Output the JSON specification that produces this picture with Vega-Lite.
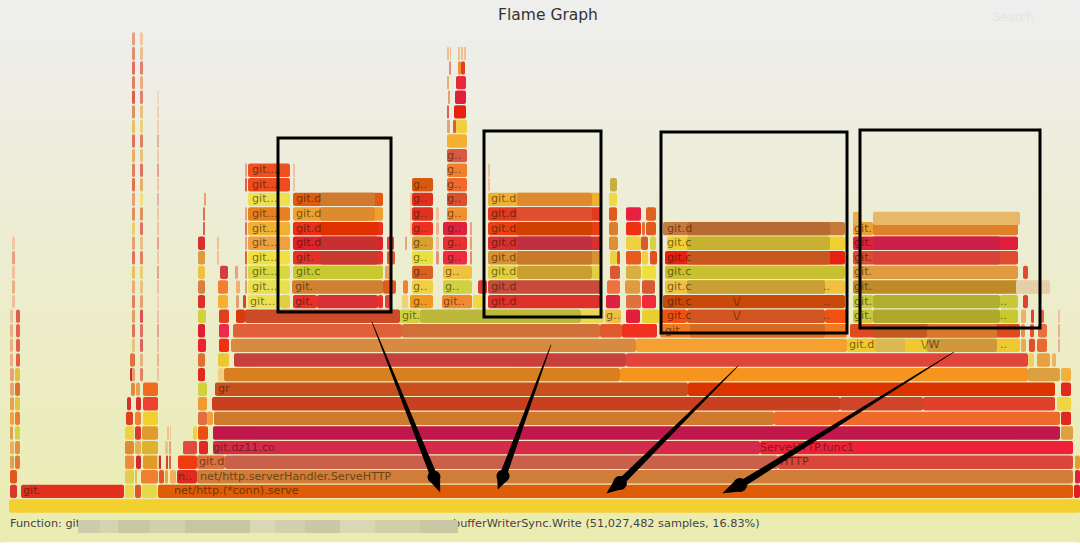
{"$schema":"https://vega.github.io/schema/vega-lite/v6.json","width":1080,"height":549,"padding":0,"autosize":{"type":"none"},
"background":"#ffffff",
"view":{"stroke":null,"fill":{"gradient":"linear","x1":0,"y1":0,"x2":0,"y2":1,"stops":[{"offset":0,"color":"#eeeeee"},{"offset":0.95,"color":"#ebecb2"},{"offset":1,"color":"#ebecb2"}]}},
"datasets":{
"frames":[
{"a":0,"b":1080,"d":-2.945,"c":"#ffffff"},
{"a":9,"b":1080,"d":0,"c":"#f4cf30"},
{"a":10,"b":17,"d":1,"c":"#d8392a"},{"a":21,"b":124,"d":1,"c":"#e2301f"},{"a":125,"b":134,"d":1,"c":"#efd54a"},{"a":135,"b":141,"d":1,"c":"#e0562a"},{"a":142,"b":157,"d":1,"c":"#e5d84a"},{"a":158,"b":1073,"d":1,"c":"#df5c08"},{"a":1074,"b":1080,"d":1,"c":"#e02020"},
{"a":10,"b":17,"d":2,"c":"#e05a20"},{"a":125,"b":134,"d":2,"c":"#e0cf4a"},{"a":135,"b":137,"d":2,"c":"#e8c040"},{"a":141,"b":158,"d":2,"c":"#f08030"},{"a":159,"b":164,"d":2,"c":"#e0562a"},{"a":165,"b":168,"d":2,"c":"#f0a040"},{"a":170,"b":176,"d":2,"c":"#f0b060"},{"a":177,"b":197,"d":2,"c":"#e02a20"},{"a":197,"b":1073,"d":2,"c":"#cf7d38"},{"a":1075,"b":1080,"d":2,"c":"#e0203a"},
{"a":10,"b":14,"d":3,"c":"#e0a050"},{"a":15,"b":20,"d":3,"c":"#e07a30"},{"a":125,"b":134,"d":3,"c":"#f08a3a"},{"a":136,"b":141,"d":3,"c":"#d02a30"},{"a":143,"b":158,"d":3,"c":"#e09a2a"},{"a":159,"b":161,"d":3,"c":"#c83030"},{"a":166,"b":168,"d":3,"c":"#d84030"},{"a":169,"b":171,"d":3,"c":"#e06050"},{"a":178,"b":197,"d":3,"c":"#f03a10"},{"a":197,"b":225,"d":3,"c":"#d97040"},{"a":225,"b":778,"d":3,"c":"#c8604a"},{"a":778,"b":1073,"d":3,"c":"#d9463a"},{"a":1075,"b":1080,"d":3,"c":"#e0a030"},
{"a":10,"b":14,"d":4,"c":"#e8b060"},{"a":15,"b":20,"d":4,"c":"#e09040"},{"a":125,"b":134,"d":4,"c":"#e08a30"},{"a":135,"b":141,"d":4,"c":"#e8b050"},{"a":142,"b":158,"d":4,"c":"#e0b030"},{"a":165,"b":168,"d":4,"c":"#eec090"},{"a":169,"b":171,"d":4,"c":"#e8a080"},{"a":183,"b":197,"d":4,"c":"#e04a40"},{"a":199,"b":208,"d":4,"c":"#e0282a"},{"a":213,"b":760,"d":4,"c":"#d62a4a"},{"a":760,"b":1073,"d":4,"c":"#f0203a"},
{"a":10,"b":13,"d":5,"c":"#e0a050"},{"a":15,"b":20,"d":5,"c":"#d8d040"},{"a":125,"b":134,"d":5,"c":"#f0d040"},{"a":135,"b":141,"d":5,"c":"#d83a30"},{"a":142,"b":158,"d":5,"c":"#e09a30"},{"a":167,"b":169,"d":5,"c":"#eec090"},{"a":170,"b":171,"d":5,"c":"#eec090"},{"a":193,"b":197,"d":5,"c":"#f0d040"},{"a":198,"b":208,"d":5,"c":"#e85010"},{"a":213,"b":1060,"d":5,"c":"#c0184a"},{"a":1061,"b":1073,"d":5,"c":"#e0a040"},
{"a":10,"b":14,"d":6,"c":"#f0a040"},{"a":15,"b":20,"d":6,"c":"#e88030"},{"a":126,"b":133,"d":6,"c":"#e04020"},{"a":135,"b":141,"d":6,"c":"#f08030"},{"a":143,"b":158,"d":6,"c":"#f0d030"},{"a":198,"b":207,"d":6,"c":"#e07040"},{"a":207,"b":213,"d":6,"c":"#f5a040"},{"a":214,"b":774,"d":6,"c":"#d07a30"},{"a":774,"b":1060,"d":6,"c":"#ef6a2a"},{"a":1061,"b":1071,"d":6,"c":"#e02a20"},
{"a":10,"b":14,"d":7,"c":"#e8a050"},{"a":15,"b":20,"d":7,"c":"#e8c040"},{"a":127,"b":131,"d":7,"c":"#d83030"},{"a":136,"b":141,"d":7,"c":"#d83030"},{"a":143,"b":158,"d":7,"c":"#f04030"},{"a":198,"b":207,"d":7,"c":"#f09a30"},{"a":212,"b":840,"d":7,"c":"#c8401f"},{"a":840,"b":923,"d":7,"c":"#d0452a"},{"a":923,"b":1055,"d":7,"c":"#e0402a"},{"a":1057,"b":1071,"d":7,"c":"#efd53f"},
{"a":10,"b":14,"d":8,"c":"#e8a070"},{"a":15,"b":20,"d":8,"c":"#e07030"},{"a":131,"b":135,"d":8,"c":"#e08a40"},{"a":136,"b":140,"d":8,"c":"#e8a050"},{"a":143,"b":158,"d":8,"c":"#f06a20"},{"a":198,"b":207,"d":8,"c":"#d0d040"},{"a":215,"b":688,"d":8,"c":"#c8501f"},{"a":688,"b":1055,"d":8,"c":"#dd3300"},{"a":1061,"b":1071,"d":8,"c":"#e02a20"},
{"a":10,"b":14,"d":9,"c":"#e8a070"},{"a":15,"b":20,"d":9,"c":"#e0c040"},{"a":130,"b":133,"d":9,"c":"#c83030"},{"a":198,"b":205,"d":9,"c":"#e02a20"},{"a":218,"b":224,"d":9,"c":"#f0d080"},{"a":224,"b":620,"d":9,"c":"#d88020"},{"a":620,"b":1028,"d":9,"c":"#f5951f"},{"a":1028,"b":1060,"d":9,"c":"#dca040"},{"a":1061,"b":1071,"d":9,"c":"#f0b040"},
{"a":10,"b":13,"d":10,"c":"#e8b080"},{"a":16,"b":20,"d":10,"c":"#e06040"},{"a":130,"b":135,"d":10,"c":"#e07040"},{"a":198,"b":205,"d":10,"c":"#e07030"},{"a":218,"b":229,"d":10,"c":"#ecc830"},{"a":234,"b":626,"d":10,"c":"#c8403a"},{"a":626,"b":1028,"d":10,"c":"#e0443a"},{"a":1028,"b":1034,"d":10,"c":"#f0d060"},{"a":1037,"b":1050,"d":10,"c":"#e8a040"},{"a":1052,"b":1056,"d":10,"c":"#f0b060"},
{"a":10,"b":13,"d":11,"c":"#e8b080"},{"a":16,"b":20,"d":11,"c":"#e06050"},{"a":198,"b":206,"d":11,"c":"#f02030"},{"a":219,"b":229,"d":11,"c":"#f03010"},{"a":231,"b":636,"d":11,"c":"#d88a40"},{"a":636,"b":847,"d":11,"c":"#f5a030"},{"a":847,"b":1020,"d":11,"c":"#f0c830"},{"a":875,"b":905,"d":11,"c":"#dcb850"},{"a":927,"b":997,"d":11,"c":"#d0983a"},{"a":1021,"b":1026,"d":11,"c":"#f0a850"},{"a":1029,"b":1035,"d":11,"c":"#e05030"},{"a":1037,"b":1047,"d":11,"c":"#e86a30"},
{"a":10,"b":13,"d":12,"c":"#e8b080"},{"a":16,"b":20,"d":12,"c":"#e86050"},{"a":198,"b":205,"d":12,"c":"#e02030"},{"a":219,"b":229,"d":12,"c":"#f02a4a"},{"a":233,"b":402,"d":12,"c":"#e0603a"},{"a":402,"b":600,"d":12,"c":"#d07038"},{"a":600,"b":622,"d":12,"c":"#e05a30"},{"a":622,"b":657,"d":12,"c":"#f03020"},{"a":660,"b":847,"d":12,"c":"#f07a20"},{"a":690,"b":825,"d":12,"c":"#d66a20"},{"a":850,"b":1020,"d":12,"c":"#e04a20"},{"a":873,"b":927,"d":12,"c":"#c05a20"},{"a":927,"b":997,"d":12,"c":"#d8762a"},{"a":1021,"b":1025,"d":12,"c":"#e09050"},{"a":1030,"b":1034,"d":12,"c":"#e85030"},{"a":1038,"b":1047,"d":12,"c":"#e87040"},
{"a":10,"b":13,"d":13,"c":"#eec0a0"},{"a":16,"b":20,"d":13,"c":"#e06050"},{"a":198,"b":206,"d":13,"c":"#d0d040"},{"a":219,"b":229,"d":13,"c":"#e04020"},{"a":236,"b":245,"d":13,"c":"#d93a10"},{"a":245,"b":400,"d":13,"c":"#cc4a28"},{"a":400,"b":420,"d":13,"c":"#d0d040"},{"a":420,"b":581,"d":13,"c":"#bcb83c"},{"a":581,"b":604,"d":13,"c":"#e8d850"},{"a":605,"b":621,"d":13,"c":"#f0c040"},{"a":626,"b":640,"d":13,"c":"#e0203a"},{"a":642,"b":659,"d":13,"c":"#e8d030"},{"a":660,"b":687,"d":13,"c":"#f05010"},{"a":687,"b":825,"d":13,"c":"#d05520"},{"a":825,"b":847,"d":13,"c":"#f05010"},{"a":853,"b":873,"d":13,"c":"#c8c838"},{"a":873,"b":1000,"d":13,"c":"#b0a82c"},{"a":1000,"b":1018,"d":13,"c":"#c8c830"},{"a":1021,"b":1026,"d":13,"c":"#f0b060"},{"a":1031,"b":1034,"d":13,"c":"#e84030"},{"a":1040,"b":1044,"d":13,"c":"#e86040"},
{"a":198,"b":205,"d":14,"c":"#d8302a"},{"a":218,"b":228,"d":14,"c":"#f5b030"},{"a":236,"b":239,"d":14,"c":"#e0a070"},{"a":243,"b":246,"d":14,"c":"#e04030"},{"a":248,"b":280,"d":14,"c":"#efe050"},{"a":280,"b":290,"d":14,"c":"#e0d040"},{"a":293,"b":317,"d":14,"c":"#e8302a"},{"a":317,"b":378,"d":14,"c":"#d93035"},{"a":378,"b":383,"d":14,"c":"#e8302a"},{"a":385,"b":392,"d":14,"c":"#e04040"},{"a":402,"b":408,"d":14,"c":"#f0d070"},{"a":410,"b":433,"d":14,"c":"#f09a20"},{"a":442,"b":472,"d":14,"c":"#f08a30"},{"a":473,"b":483,"d":14,"c":"#efd840"},{"a":488,"b":600,"d":14,"c":"#e0302a"},{"a":606,"b":620,"d":14,"c":"#e02040"},{"a":626,"b":641,"d":14,"c":"#e07040"},{"a":642,"b":656,"d":14,"c":"#f02a3a"},{"a":663,"b":845,"d":14,"c":"#c94a08"},{"a":853,"b":873,"d":14,"c":"#c8c838"},{"a":873,"b":1000,"d":14,"c":"#b0b030"},{"a":1000,"b":1018,"d":14,"c":"#c8c838"},{"a":1023,"b":1028,"d":14,"c":"#e04030"},
{"a":198,"b":205,"d":15,"c":"#d88040"},{"a":218,"b":228,"d":15,"c":"#f08030"},{"a":236,"b":240,"d":15,"c":"#f0b070"},{"a":245,"b":247,"d":15,"c":"#e0a070"},{"a":248,"b":290,"d":15,"c":"#e8e050"},{"a":292,"b":383,"d":15,"c":"#d08030"},{"a":383,"b":396,"d":15,"c":"#e05a20"},{"a":403,"b":408,"d":15,"c":"#f08030"},{"a":412,"b":433,"d":15,"c":"#f0d040"},{"a":443,"b":472,"d":15,"c":"#d0d040"},{"a":478,"b":487,"d":15,"c":"#d83a30"},{"a":488,"b":602,"d":15,"c":"#c84a3a"},{"a":607,"b":620,"d":15,"c":"#f07040"},{"a":625,"b":640,"d":15,"c":"#e09a40"},{"a":642,"b":655,"d":15,"c":"#d85a30"},{"a":665,"b":845,"d":15,"c":"#f0c040"},{"a":687,"b":825,"d":15,"c":"#c8a035"},{"a":853,"b":1018,"d":15,"c":"#c08a28"},{"a":1016,"b":1050,"d":15,"c":"#e4cfa8"},
{"a":198,"b":205,"d":16,"c":"#f0c040"},{"a":220,"b":228,"d":16,"c":"#d04040"},{"a":235,"b":238,"d":16,"c":"#e8a080"},{"a":245,"b":247,"d":16,"c":"#e8a080"},{"a":248,"b":290,"d":16,"c":"#d8d840"},{"a":293,"b":383,"d":16,"c":"#c8c830"},{"a":385,"b":392,"d":16,"c":"#e8a060"},{"a":412,"b":433,"d":16,"c":"#d86020"},{"a":443,"b":472,"d":16,"c":"#f0c040"},{"a":488,"b":517,"d":16,"c":"#e0d040"},{"a":517,"b":592,"d":16,"c":"#c8a030"},{"a":592,"b":602,"d":16,"c":"#e0d040"},{"a":610,"b":620,"d":16,"c":"#d85a30"},{"a":626,"b":641,"d":16,"c":"#d8b040"},{"a":642,"b":656,"d":16,"c":"#eee040"},{"a":665,"b":845,"d":16,"c":"#c8c030"},{"a":853,"b":1018,"d":16,"c":"#e09a40"},{"a":1023,"b":1028,"d":16,"c":"#e04a30"},
{"a":198,"b":205,"d":17,"c":"#e09a40"},{"a":217,"b":219,"d":17,"c":"#f0c090"},{"a":245,"b":247,"d":17,"c":"#e06040"},{"a":248,"b":290,"d":17,"c":"#f0e040"},{"a":293,"b":383,"d":17,"c":"#e8302a"},{"a":320,"b":378,"d":17,"c":"#c83a30"},{"a":387,"b":395,"d":17,"c":"#e05a30"},{"a":412,"b":433,"d":17,"c":"#e8e040"},{"a":436,"b":439,"d":17,"c":"#e09080"},{"a":443,"b":467,"d":17,"c":"#f02a40"},{"a":470,"b":472,"d":17,"c":"#e09070"},{"a":488,"b":602,"d":17,"c":"#d89030"},{"a":517,"b":592,"d":17,"c":"#c87a2a"},{"a":610,"b":617,"d":17,"c":"#f0d040"},{"a":617,"b":620,"d":17,"c":"#e05a20"},{"a":626,"b":641,"d":17,"c":"#e85a20"},{"a":642,"b":648,"d":17,"c":"#f0d040"},{"a":650,"b":657,"d":17,"c":"#e05020"},{"a":665,"b":845,"d":17,"c":"#e82010"},{"a":687,"b":830,"d":17,"c":"#c9581f"},{"a":853,"b":1018,"d":17,"c":"#e04a30"},{"a":873,"b":1000,"d":17,"c":"#d8403a"},
{"a":198,"b":205,"d":18,"c":"#d83030"},{"a":217,"b":219,"d":18,"c":"#f0c090"},{"a":245,"b":247,"d":18,"c":"#e8a080"},{"a":248,"b":290,"d":18,"c":"#f0a040"},{"a":293,"b":383,"d":18,"c":"#e0202a"},{"a":320,"b":378,"d":18,"c":"#c83030"},{"a":387,"b":394,"d":18,"c":"#e04040"},{"a":405,"b":407,"d":18,"c":"#e8a080"},{"a":412,"b":433,"d":18,"c":"#d8a030"},{"a":436,"b":439,"d":18,"c":"#f0c0a0"},{"a":443,"b":467,"d":18,"c":"#e83030"},{"a":470,"b":472,"d":18,"c":"#e8a070"},{"a":488,"b":602,"d":18,"c":"#d83030"},{"a":517,"b":592,"d":18,"c":"#c03040"},{"a":609,"b":618,"d":18,"c":"#e09030"},{"a":626,"b":641,"d":18,"c":"#f0d040"},{"a":641,"b":648,"d":18,"c":"#d85a30"},{"a":650,"b":656,"d":18,"c":"#d8d040"},{"a":667,"b":845,"d":18,"c":"#efd030"},{"a":687,"b":830,"d":18,"c":"#c8b030"},{"a":853,"b":1018,"d":18,"c":"#e0203a"},{"a":873,"b":1000,"d":18,"c":"#cc2048"},
{"a":203,"b":205,"d":19,"c":"#e06050"},{"a":245,"b":247,"d":19,"c":"#e07060"},{"a":248,"b":290,"d":19,"c":"#f0b030"},{"a":293,"b":383,"d":19,"c":"#e8301a"},{"a":320,"b":378,"d":19,"c":"#e03000"},{"a":410,"b":412,"d":19,"c":"#f0c0a0"},{"a":412,"b":433,"d":19,"c":"#ee3020"},{"a":436,"b":439,"d":19,"c":"#f0b090"},{"a":443,"b":467,"d":19,"c":"#e02040"},{"a":470,"b":472,"d":19,"c":"#e8a080"},{"a":488,"b":602,"d":19,"c":"#e84010"},{"a":517,"b":592,"d":19,"c":"#d04000"},{"a":609,"b":618,"d":19,"c":"#d88030"},{"a":626,"b":641,"d":19,"c":"#f03010"},{"a":642,"b":645,"d":19,"c":"#e07030"},{"a":646,"b":656,"d":19,"c":"#e05a20"},{"a":663,"b":845,"d":19,"c":"#c87a3a"},{"a":687,"b":830,"d":19,"c":"#b86a35"},{"a":853,"b":873,"d":19,"c":"#f0a030"},{"a":873,"b":1018,"d":19,"c":"#e0802a"},
{"a":873,"b":1020,"d":19.7,"c":"#e8b868"},{"a":853,"b":860,"d":19.7,"c":"#e8b050"},
{"a":203,"b":205,"d":20,"c":"#e07050"},{"a":245,"b":247,"d":20,"c":"#e8a080"},{"a":248,"b":290,"d":20,"c":"#e88020"},{"a":293,"b":383,"d":20,"c":"#f0a030"},{"a":320,"b":375,"d":20,"c":"#e08a30"},{"a":410,"b":412,"d":20,"c":"#f0c0a0"},{"a":412,"b":433,"d":20,"c":"#e03020"},{"a":436,"b":439,"d":20,"c":"#f0c0a0"},{"a":447,"b":467,"d":20,"c":"#f09030"},{"a":488,"b":602,"d":20,"c":"#e03a20"},{"a":517,"b":592,"d":20,"c":"#e05030"},{"a":609,"b":617,"d":20,"c":"#e05a20"},{"a":626,"b":641,"d":20,"c":"#e82040"},{"a":646,"b":656,"d":20,"c":"#e06020"},
{"a":204,"b":206,"d":21,"c":"#f0a070"},{"a":248,"b":290,"d":21,"c":"#efe050"},{"a":293,"b":383,"d":21,"c":"#e05a10"},{"a":320,"b":375,"d":21,"c":"#d07a30"},{"a":410,"b":412,"d":21,"c":"#f0c0a0"},{"a":412,"b":433,"d":21,"c":"#e03020"},{"a":447,"b":467,"d":21,"c":"#d85030"},{"a":488,"b":602,"d":21,"c":"#f0b030"},{"a":517,"b":592,"d":21,"c":"#e08a30"},{"a":609,"b":617,"d":21,"c":"#f0d840"},
{"a":245,"b":247,"d":22,"c":"#e06050"},{"a":248,"b":290,"d":22,"c":"#f04a20"},{"a":293,"b":295,"d":22,"c":"#f0c0a0"},{"a":412,"b":433,"d":22,"c":"#d85a10"},{"a":447,"b":467,"d":22,"c":"#f06a30"},{"a":488,"b":490,"d":22,"c":"#f0c0a0"},{"a":610,"b":617,"d":22,"c":"#c8b040"},
{"a":245,"b":247,"d":23,"c":"#e8a090"},{"a":248,"b":290,"d":23,"c":"#f05020"},{"a":293,"b":295,"d":23,"c":"#f0c0a0"},{"a":447,"b":467,"d":23,"c":"#f08030"},{"a":488,"b":490,"d":23,"c":"#f0c0a0"},
{"a":447,"b":467,"d":24,"c":"#d85a40"},{"a":447,"b":467,"d":25,"c":"#f5b030"},{"a":447,"b":450,"d":26,"c":"#e8a080"},{"a":453,"b":456,"d":26,"c":"#e06020"},{"a":456,"b":467,"d":26,"c":"#f0d040"},{"a":447,"b":449,"d":27,"c":"#e06050"},{"a":454,"b":466,"d":27,"c":"#e82010"},{"a":448,"b":450,"d":28,"c":"#e8a060"},{"a":455,"b":466,"d":28,"c":"#e0203a"},{"a":447,"b":449,"d":29,"c":"#e8b070"},{"a":456,"b":466,"d":29,"c":"#e82a3a"},{"a":449,"b":451,"d":30,"c":"#e09070"},{"a":458,"b":461,"d":30,"c":"#f09030"},{"a":461,"b":465,"d":30,"c":"#e04020"},{"a":447,"b":449,"d":31,"c":"#f0c090"},{"a":450,"b":451,"d":31,"c":"#f0c090"},{"a":458,"b":460,"d":31,"c":"#f0c090"},{"a":461,"b":463,"d":31,"c":"#f0c090"},{"a":464,"b":466,"d":31,"c":"#f0c090"},
{"a":132,"b":135,"d":9,"c":"#e8a070"},{"a":132,"b":135,"d":11,"c":"#e8c080"},{"a":132,"b":135,"d":12,"c":"#e07060"},{"a":132,"b":135,"d":13,"c":"#e0a060"},{"a":132,"b":135,"d":14,"c":"#e08060"},{"a":132,"b":135,"d":15,"c":"#e8b070"},{"a":132,"b":135,"d":16,"c":"#e8c060"},{"a":132,"b":135,"d":17,"c":"#e07060"},{"a":132,"b":135,"d":18,"c":"#e8a070"},{"a":132,"b":135,"d":19,"c":"#e8d070"},{"a":132,"b":135,"d":20,"c":"#e09060"},{"a":132,"b":135,"d":21,"c":"#e8a070"},{"a":132,"b":135,"d":22,"c":"#e07050"},{"a":132,"b":135,"d":23,"c":"#e08060"},{"a":132,"b":135,"d":24,"c":"#e8b060"},{"a":132,"b":135,"d":25,"c":"#e07060"},{"a":132,"b":135,"d":26,"c":"#e8c060"},{"a":132,"b":135,"d":27,"c":"#e09060"},{"a":132,"b":135,"d":28,"c":"#d86050"},{"a":132,"b":135,"d":29,"c":"#e08060"},{"a":132,"b":135,"d":30,"c":"#e07060"},{"a":132,"b":135,"d":31,"c":"#e09070"},{"a":132,"b":135,"d":32,"c":"#e8a080"},
{"a":140,"b":143,"d":9,"c":"#e08060"},{"a":140,"b":143,"d":10,"c":"#e8b080"},{"a":140,"b":143,"d":11,"c":"#e06060"},{"a":140,"b":143,"d":12,"c":"#e07060"},{"a":140,"b":143,"d":13,"c":"#e05050"},{"a":140,"b":143,"d":14,"c":"#e8a070"},{"a":140,"b":143,"d":15,"c":"#e8c080"},{"a":140,"b":143,"d":16,"c":"#e8d070"},{"a":140,"b":143,"d":17,"c":"#e08060"},{"a":140,"b":143,"d":18,"c":"#e8c080"},{"a":140,"b":143,"d":19,"c":"#e07060"},{"a":140,"b":143,"d":20,"c":"#e09060"},{"a":140,"b":143,"d":21,"c":"#f0e080"},{"a":140,"b":143,"d":22,"c":"#e8b070"},{"a":140,"b":143,"d":23,"c":"#e07060"},{"a":140,"b":143,"d":24,"c":"#e8c080"},{"a":140,"b":143,"d":25,"c":"#e08060"},{"a":140,"b":143,"d":26,"c":"#e8d080"},{"a":140,"b":143,"d":27,"c":"#e8c080"},{"a":140,"b":143,"d":28,"c":"#e08070"},{"a":140,"b":143,"d":29,"c":"#e8b080"},{"a":140,"b":143,"d":30,"c":"#e08070"},{"a":140,"b":143,"d":31,"c":"#e8c090"},{"a":140,"b":143,"d":32,"c":"#f0c8a0"},
{"a":157,"b":159,"d":3,"c":"#f0c8a0"},{"a":157,"b":159,"d":9,"c":"#f0c0a0"},{"a":157,"b":159,"d":10,"c":"#f0b090"},{"a":157,"b":159,"d":11,"c":"#f0c0a0"},{"a":157,"b":159,"d":12,"c":"#e8a090"},{"a":157,"b":159,"d":13,"c":"#f0c0a0"},{"a":157,"b":159,"d":14,"c":"#f0d0b0"},{"a":157,"b":159,"d":15,"c":"#f0c0a0"},{"a":157,"b":159,"d":16,"c":"#e8a090"},{"a":157,"b":159,"d":17,"c":"#f0c8a0"},{"a":157,"b":159,"d":18,"c":"#e8a090"},{"a":157,"b":159,"d":19,"c":"#f0c0a0"},{"a":157,"b":159,"d":20,"c":"#f0c8a0"},{"a":157,"b":159,"d":21,"c":"#e8b0a0"},{"a":157,"b":159,"d":22,"c":"#f0c8a0"},{"a":157,"b":159,"d":23,"c":"#e8a090"},{"a":157,"b":159,"d":24,"c":"#f0c8b0"},{"a":157,"b":159,"d":25,"c":"#e8b0a0"},{"a":157,"b":159,"d":26,"c":"#f0d0b0"},{"a":157,"b":159,"d":27,"c":"#f0d0b0"},{"a":157,"b":159,"d":28,"c":"#f0d8c0"},
{"a":12,"b":15,"d":14,"c":"#eec0a0"},{"a":12,"b":15,"d":15,"c":"#e8b080"},{"a":12,"b":15,"d":16,"c":"#eec0a0"},{"a":12,"b":15,"d":17,"c":"#e8a080"},{"a":12,"b":15,"d":18,"c":"#f0c8a8"},
{"a":1058,"b":1060,"d":11,"c":"#e8b090"},{"a":1058,"b":1060,"d":12,"c":"#e8b090"},{"a":1058,"b":1060,"d":13,"c":"#eec0a0"}
],
"labels":[
{"a":23,"d":1,"t":"git."},{"a":174,"d":1,"t":"net/http.(*conn).serve"},{"a":178,"d":2,"t":"n.."},{"a":200,"d":2,"t":"net/http.serverHandler.ServeHTTP"},{"a":199,"d":3,"t":"git.d"},{"a":780,"d":3,"t":"HTTP"},{"a":213,"d":4,"t":"git.dz11.co"},{"a":760,"d":4,"t":"ServeHTTP.func1"},{"a":218,"d":8,"t":"gr"},
{"a":849,"d":11,"t":"git.d"},{"a":921,"d":11,"t":"\\/W"},{"a":1000,"d":11,"t":".."},{"a":665,"d":12,"t":"git"},
{"a":402,"d":13,"t":"git."},{"a":606,"d":13,"t":"g.."},{"a":667,"d":13,"t":"git.c"},{"a":733,"d":13,"t":"\\/"},{"a":823,"d":13,"t":".."},{"a":854,"d":13,"t":"git."},{"a":1000,"d":13,"t":".."},
{"a":250,"d":14,"t":"git..."},{"a":295,"d":14,"t":"git."},{"a":413,"d":14,"t":"g.."},{"a":443,"d":14,"t":"git.."},{"a":491,"d":14,"t":"git.d"},{"a":667,"d":14,"t":"git.c"},{"a":733,"d":14,"t":"\\/"},{"a":823,"d":14,"t":".."},{"a":854,"d":14,"t":"git."},{"a":1000,"d":14,"t":".."},
{"a":252,"d":15,"t":"git..."},{"a":295,"d":15,"t":"git."},{"a":413,"d":15,"t":"g.."},{"a":445,"d":15,"t":"g.."},{"a":491,"d":15,"t":"git.d"},{"a":667,"d":15,"t":"git.c"},{"a":823,"d":15,"t":".."},{"a":854,"d":15,"t":"git."},
{"a":252,"d":16,"t":"git..."},{"a":296,"d":16,"t":"git.c"},{"a":413,"d":16,"t":"g.."},{"a":445,"d":16,"t":"g.."},{"a":491,"d":16,"t":"git.d"},{"a":667,"d":16,"t":"git.c"},{"a":854,"d":16,"t":"git."},
{"a":252,"d":17,"t":"git..."},{"a":296,"d":17,"t":"git."},{"a":413,"d":17,"t":"g.."},{"a":447,"d":17,"t":"g.."},{"a":491,"d":17,"t":"git.d"},{"a":667,"d":17,"t":"git.c"},{"a":854,"d":17,"t":"git."},
{"a":252,"d":18,"t":"git..."},{"a":296,"d":18,"t":"git.d"},{"a":413,"d":18,"t":"g.."},{"a":447,"d":18,"t":"g.."},{"a":491,"d":18,"t":"git.d"},{"a":667,"d":18,"t":"git.c"},{"a":854,"d":18,"t":"git."},
{"a":252,"d":19,"t":"git..."},{"a":296,"d":19,"t":"git.d"},{"a":413,"d":19,"t":"g.."},{"a":447,"d":19,"t":"g.."},{"a":491,"d":19,"t":"git.d"},{"a":667,"d":19,"t":"git.d"},{"a":854,"d":19,"t":"git."},
{"a":252,"d":20,"t":"git..."},{"a":296,"d":20,"t":"git.d"},{"a":413,"d":20,"t":"g.."},{"a":447,"d":20,"t":"g.."},{"a":491,"d":20,"t":"git.d"},
{"a":252,"d":21,"t":"git..."},{"a":296,"d":21,"t":"git.d"},{"a":413,"d":21,"t":"g.."},{"a":447,"d":21,"t":"g.."},{"a":491,"d":21,"t":"git.d"},
{"a":252,"d":22,"t":"git..."},{"a":413,"d":22,"t":"g.."},{"a":447,"d":22,"t":"g.."},
{"a":252,"d":23,"t":"git..."},{"a":447,"d":23,"t":"g.."},{"a":447,"d":24,"t":"g.."}
],
"boxes":[
{"a":278,"b":391,"d":25.2,"e":13.29},{"a":484,"b":601,"d":25.68,"e":12.95},{"a":661,"b":847,"d":25.62,"e":11.85},{"a":860,"b":1040,"d":25.75,"e":12.19}
],
"arrows":[
{"n":1,"o":1,"a":372,"d":12.6,"w":0.6},{"n":1,"o":2,"a":433,"d":2.19,"w":7},{"n":1,"o":3,"a":434,"d":1.99,"w":13},{"n":1,"o":4,"a":440,"d":0.96,"w":0.5},
{"n":2,"o":1,"a":551,"d":11.03,"w":0.6},{"n":2,"o":2,"a":504,"d":2.26,"w":7},{"n":2,"o":3,"a":503,"d":2.05,"w":13},{"n":2,"o":4,"a":498,"d":1.16,"w":0.5},
{"n":3,"o":1,"a":738,"d":9.59,"w":0.6},{"n":3,"o":2,"a":623,"d":1.78,"w":7},{"n":3,"o":3,"a":620,"d":1.58,"w":14},{"n":3,"o":4,"a":607,"d":0.89,"w":0.5},
{"n":4,"o":1,"a":954,"d":10.55,"w":0.6},{"n":4,"o":2,"a":745,"d":1.64,"w":7},{"n":4,"o":3,"a":740,"d":1.44,"w":14},{"n":4,"o":4,"a":723,"d":0.89,"w":0.5}
],
"smudge":[
{"a":78,"b":100,"d":-1.4,"c":"#ccccaa"},{"a":100,"b":118,"d":-1.4,"c":"#d4d4b0"},{"a":118,"b":150,"d":-1.4,"c":"#c8c8a4"},{"a":150,"b":185,"d":-1.4,"c":"#d0d0ac"},{"a":185,"b":250,"d":-1.4,"c":"#c6c6a2"},{"a":250,"b":275,"d":-1.4,"c":"#d8d8b4"},{"a":275,"b":305,"d":-1.4,"c":"#d0d0ac"},{"a":305,"b":340,"d":-1.4,"c":"#c8c8a4"},{"a":340,"b":375,"d":-1.4,"c":"#d8d8b4"},{"a":375,"b":420,"d":-1.4,"c":"#cfcfaa"},{"a":420,"b":458,"d":-1.4,"c":"#c8c8a4"}
],
"texts":[
{"a":548,"d":33.63,"t":"Flame Graph","s":15.5,"k":"#333333","h":"middle"},
{"a":1013,"d":33.5,"t":"Search","s":12,"k":"#e4e4e4","h":"middle"},
{"a":10,"d":-1.24,"t":"Function: git","s":11.3,"k":"#444444","h":"left"},
{"a":453,"d":-1.24,"t":"bufferWriterSync.Write (51,027,482 samples, 16.83%)","s":11.3,"k":"#444444","h":"left"}
]
},
"encoding":{
"x":{"field":"a","type":"quantitative","scale":{"domain":[0,1080],"nice":false,"zero":false,"padding":0},"axis":null},
"y":{"field":"d","type":"quantitative","scale":{"domain":[-2.945,34.66],"nice":false,"zero":false,"padding":0},"axis":null}
},
"layer":[
{"data":{"name":"frames"},"mark":{"type":"bar","orient":"horizontal","size":13.4,"cornerRadius":2,"clip":false},"encoding":{"x2":{"field":"b"},"color":{"field":"c","type":"nominal","scale":null,"legend":null}}},
{"data":{"name":"labels"},"mark":{"type":"text","align":"left","baseline":"middle","font":"DejaVu Sans","fontSize":11.2,"fill":"#2a1a00","fillOpacity":0.62},"encoding":{"text":{"field":"t"}}},
{"data":{"name":"boxes"},"mark":{"type":"rect","fill":null,"fillOpacity":0,"stroke":"#000000","strokeWidth":3},"encoding":{"x2":{"field":"b"},"y2":{"field":"e"}}},
{"data":{"name":"arrows"},"mark":{"type":"trail","color":"#000000"},"encoding":{"detail":{"field":"n"},"order":{"field":"o"},"size":{"field":"w","type":"quantitative","scale":null,"legend":null}}},
{"data":{"name":"texts"},"transform":[{"filter":"datum.h==='middle'"}],"mark":{"type":"text","baseline":"middle","font":"DejaVu Sans"},"encoding":{"text":{"field":"t"},"size":{"field":"s","type":"quantitative","scale":null,"legend":null},"color":{"field":"k","type":"nominal","scale":null,"legend":null}}},
{"data":{"name":"texts"},"transform":[{"filter":"datum.h==='left'"}],"mark":{"type":"text","baseline":"middle","align":"left","font":"DejaVu Sans"},"encoding":{"text":{"field":"t"},"size":{"field":"s","type":"quantitative","scale":null,"legend":null},"color":{"field":"k","type":"nominal","scale":null,"legend":null}}},
{"data":{"name":"smudge"},"mark":{"type":"bar","orient":"horizontal","size":13,"cornerRadius":1},"encoding":{"x2":{"field":"b"},"color":{"field":"c","type":"nominal","scale":null,"legend":null}}}
]
}
